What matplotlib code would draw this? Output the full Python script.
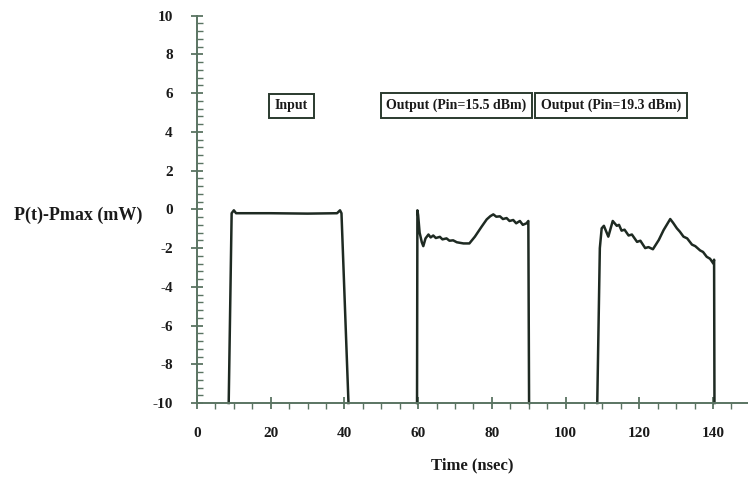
import matplotlib
matplotlib.use("Agg")
import matplotlib.pyplot as plt
from matplotlib.ticker import MultipleLocator

# Data
input_t = [8.6, 9.4, 10.0, 10.6, 20.0, 30.0, 38.0, 38.8, 39.2, 41.1]
input_p = [-10.0, -0.2, -0.05, -0.2, -0.2, -0.22, -0.2, -0.05, -0.2, -10.0]

out1_t = [59.7, 59.8, 60.0, 60.4, 61.0, 61.4, 62.0, 62.8, 63.4, 64.1, 64.8, 65.9, 66.6,
          67.7, 68.5, 69.5, 70.5, 72.3, 73.9, 75.4, 77.2, 78.6, 79.6, 80.4, 81.2, 82.2,
          83.0, 84.0, 84.8, 85.8, 86.6, 87.6, 88.4, 89.4, 89.9, 90.1]
out1_p = [-10.0, -0.05, -0.3, -1.2, -1.7, -1.9, -1.5, -1.3, -1.45, -1.35, -1.48, -1.42,
          -1.55, -1.5, -1.62, -1.6, -1.7, -1.76, -1.76, -1.41, -0.9, -0.52, -0.35, -0.26,
          -0.38, -0.36, -0.5, -0.45, -0.6, -0.55, -0.72, -0.6, -0.8, -0.72, -0.6, -10.0]

out2_t = [108.6, 109.3, 109.8, 110.4, 111.6, 112.8, 113.9, 114.5, 115.2, 116.0, 117.1,
          118.0, 119.4, 120.3, 121.6, 122.5, 123.7, 125.3, 126.6, 128.4, 129.2, 130.2,
          131.0, 132.0, 133.0, 134.3, 135.2, 136.5, 137.3, 138.3, 139.2, 140.1, 140.3, 140.4]
out2_p = [-10.0, -2.0, -0.98, -0.85, -1.41, -0.6, -0.85, -0.8, -1.1, -1.05, -1.35,
          -1.3, -1.68, -1.62, -2.0, -1.95, -2.06, -1.58, -1.07, -0.5, -0.7, -0.98,
          -1.15, -1.41, -1.5, -1.82, -1.9, -2.12, -2.2, -2.45, -2.55, -2.8, -2.6, -10.0]

labels = ["Input", "Output (Pin=15.5 dBm)", "Output (Pin=19.3 dBm)"]
label_x = [25.6, 70.4, 112.3]
label_y = 5.35

line_c = "#1e2a22"
axis_c = "#5a7462"
text_c = "#1a1a1a"

plt.rcParams['font.family'] = ['Liberation Serif', 'DejaVu Serif']
plt.rcParams['font.weight'] = 'bold'
plt.rcParams['axes.unicode_minus'] = False

fig = plt.figure(figsize=(7.48, 4.8), dpi=100)
W, H = 748, 480
left, right, top, bottom = 197, 748, 15.7, 403
ax = fig.add_axes([left / W, 1 - bottom / H, (right - left) / W, (bottom - top) / H])

for t, p in [(input_t, input_p), (out1_t, out1_p), (out2_t, out2_p)]:
    ax.plot(t, p, color=line_c, lw=1.8, solid_joinstyle='round', clip_on=False)

ax.set_xlim(0, 149.5)
ax.set_ylim(-10, 10)
for s in ['top', 'right']:
    ax.spines[s].set_visible(False)
for s in ['left', 'bottom']:
    ax.spines[s].set_color(axis_c)
    ax.spines[s].set_linewidth(1.4)

ax.xaxis.set_major_locator(MultipleLocator(20))
ax.xaxis.set_minor_locator(MultipleLocator(5))
ax.yaxis.set_major_locator(MultipleLocator(2))
ax.yaxis.set_minor_locator(MultipleLocator(0.4))
ax.tick_params(axis='both', which='major', direction='inout', length=9, width=1.3,
               color=axis_c, labelsize=11, labelcolor=text_c)
ax.tick_params(axis='x', which='minor', direction='out', length=4, width=1.0, color=axis_c)
ax.tick_params(axis='y', which='minor', direction='in', length=4, width=1.0, color=axis_c)
ax.tick_params(axis='x', which='major', pad=13)
ax.tick_params(axis='y', which='major', pad=13)

ax.set_xlabel("Time (nsec)", fontsize=12, fontweight='bold', color=text_c, labelpad=12)
fig.text(78 / W, 1 - 215 / H, "P(t)-Pmax (mW)", fontsize=13, fontweight='bold',
         color=text_c, ha='center', va='center')

for lx, lab in zip(label_x, labels):
    ax.text(lx, label_y, lab, fontsize=10, fontweight='bold', color=text_c,
            ha='center', va='center',
            bbox=dict(boxstyle='square,pad=0.4', fc='white', ec='#2a3a2e', lw=1.4))

fig.savefig("out.png", dpi=100)
